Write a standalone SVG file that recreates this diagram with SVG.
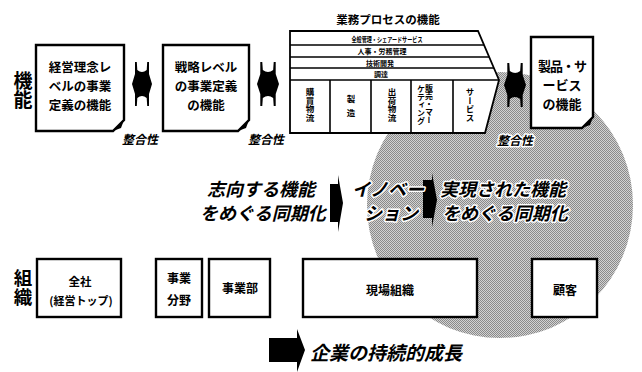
<svg xmlns="http://www.w3.org/2000/svg" width="642" height="372" viewBox="0 0 642 372">
<defs>
<style>
.box{fill:#fff;stroke:#000;stroke-width:2.4}
.vc{fill:#fff;stroke:#000;stroke-width:1.8}
.ln{stroke:#000;stroke-width:1.6;fill:none}
.t{font-family:"Noto Sans CJK JP","Noto Sans",sans-serif;font-weight:bold;fill:#000}
.c{text-anchor:middle}
.it{font-style:italic}
.halo{stroke:#fff;stroke-width:3;paint-order:stroke;stroke-linejoin:round}
.v{writing-mode:vertical-rl}
.blk{fill:#000}
</style>
<pattern id="dither" width="2" height="2" patternUnits="userSpaceOnUse">
<rect width="2" height="2" fill="#d2d2d2"/>
<rect width="1" height="1" fill="#8a8a8a"/>
<rect x="1" y="1" width="1" height="1" fill="#8a8a8a"/>
</pattern>
<path id="dbl" d="M0,22 L3,12 L3,0 L4.8,0 L5.3,8 Q10,12 14.7,8 L15.2,0 L17,0 L17,12 L20,22 L17,32 L17,44 L15.2,44 L14.7,36 Q10,32 5.3,36 L4.8,44 L3,44 L3,32 Z"/>
</defs>
<rect width="642" height="372" fill="#fff"/>

<circle id="bg-circle" cx="500" cy="205" r="133" fill="url(#dither)"/>

<g id="label-kinou"><text class="t v" x="23" y="71" font-size="19">機能</text></g>
<g id="label-soshiki"><text class="t v" x="23" y="269" font-size="18.5">組織</text></g>

<g id="node-rinen">
<path class="box" d="M36,45 H124 V120 L113,131 H36 Z"/>
<polygon class="blk" points="113,131 124,120 121,128"/>
<text class="t c" x="80" y="72" font-size="12.5">経営理念レ</text>
<text class="t c" x="80" y="91" font-size="12.5">ベルの事業</text>
<text class="t c" x="80" y="110" font-size="12.5">定義の機能</text>
</g>

<g id="node-senryaku">
<path class="box" d="M163,45 H249 V120 L238,131 H163 Z"/>
<polygon class="blk" points="238,131 249,120 246,128"/>
<text class="t c" x="206" y="72" font-size="12.5">戦略レベル</text>
<text class="t c" x="206" y="91" font-size="12.5">の事業定義</text>
<text class="t c" x="206" y="110" font-size="12.5">の機能</text>
</g>

<g id="node-gyomu">
<text class="t c" x="388" y="24" font-size="11.5">業務プロセスの機能</text>
<polygon class="vc" points="290,31 478,31 499,80 485,133 290,133"/>
<line class="ln" x1="290" y1="45" x2="484" y2="45"/>
<line class="ln" x1="290" y1="57" x2="489" y2="57"/>
<line class="ln" x1="290" y1="68" x2="494" y2="68"/>
<line class="ln" x1="290" y1="80" x2="499" y2="80"/>
<line class="ln" x1="330" y1="80" x2="330" y2="133"/>
<line class="ln" x1="371" y1="80" x2="371" y2="133"/>
<line class="ln" x1="411" y1="80" x2="411" y2="133"/>
<line class="ln" x1="453" y1="80" x2="453" y2="133"/>
<text class="t c" x="387" y="41.5" font-size="7" textLength="71" lengthAdjust="spacingAndGlyphs">全般管理・シェアードサービス</text>
<text class="t c" x="382" y="54" font-size="7">人事・労務管理</text>
<text class="t c" x="380" y="65.5" font-size="7">技術開発</text>
<text class="t c" x="381" y="77" font-size="7">調達</text>
<text class="t v" x="310" y="88" font-size="8.5">購買物流</text>
<text class="t v" x="351" y="95" font-size="8.5" letter-spacing="5">製造</text>
<text class="t v" x="392" y="88" font-size="8.5">出荷物流</text>
<text class="t v" x="429" y="84" font-size="8">販売・マー</text>
<text class="t v" x="421" y="85" font-size="8">ケティング</text>
<text class="t v" x="470" y="88" font-size="8.5">サービス</text>
</g>

<g id="node-seihin">
<path class="box" d="M531,37 H593 V117 L582,128 H531 Z"/>
<polygon class="blk" points="582,128 593,117 590,125"/>
<text class="t c" x="562" y="71" font-size="13" letter-spacing="-1">製品・サ</text>
<text class="t c" x="562" y="90" font-size="13">ービス</text>
<text class="t c" x="562" y="109" font-size="13">の機能</text>
</g>

<g id="node-zensha">
<rect class="box" x="37" y="259" width="84" height="58"/>
<text class="t c" x="80" y="286" font-size="11.5">全社</text>
<text class="t c" x="81" y="305" font-size="11">(経営トップ)</text>
</g>
<g id="node-jigyobunya">
<rect class="box" x="156" y="259" width="46" height="58"/>
<text class="t c" x="179" y="283" font-size="12">事業</text>
<text class="t c" x="179" y="305" font-size="12">分野</text>
</g>
<g id="node-jigyobu">
<rect class="box" x="209" y="259" width="61" height="58"/>
<text class="t c" x="240" y="293" font-size="12">事業部</text>
</g>
<g id="node-genba">
<rect class="box" x="303" y="259" width="174" height="58"/>
<text class="t c" x="390" y="295" font-size="12">現場組織</text>
</g>
<g id="node-kokyaku">
<rect class="box" x="532" y="259" width="65" height="58"/>
<text class="t c" x="565" y="295" font-size="12">顧客</text>
</g>

<g id="connectors">
<use href="#dbl" x="132" y="62"/>
<use href="#dbl" transform="translate(257,62) scale(1.1,1)"/>
<use href="#dbl" transform="translate(504,63) scale(1.1,1)"/>
<polygon class="blk" points="330,184 338,184 338,175 343,203 338,232 338,222 330,222"/>
<polygon class="blk" points="423,180 432,180 432,173 437,200 432,227 432,218 423,218"/>
<polygon class="blk" points="269,338 297,338 297,329 305,350 297,372 297,362 269,362"/>
<text class="t it" x="122" y="144" font-size="12">整合性</text>
<text class="t it" x="248" y="144" font-size="12">整合性</text>
<text class="t it halo" x="497" y="145" font-size="12">整合性</text>
</g>

<g id="node-sync">
<text class="t it halo" x="207" y="196" font-size="18">志向する機能</text>
<text class="t it halo" x="200" y="220" font-size="18">をめぐる同期化</text>
<text class="t it halo" x="352" y="196" font-size="18">イノベー</text>
<text class="t it halo" x="364" y="220" font-size="18">ション</text>
<text class="t it halo" x="440" y="196" font-size="18">実現された機能</text>
<text class="t it halo" x="442" y="220" font-size="18">をめぐる同期化</text>
</g>

<g id="node-growth">
<text class="t it" x="310" y="360" font-size="19">企業の持続的成長</text>
</g>
</svg>
